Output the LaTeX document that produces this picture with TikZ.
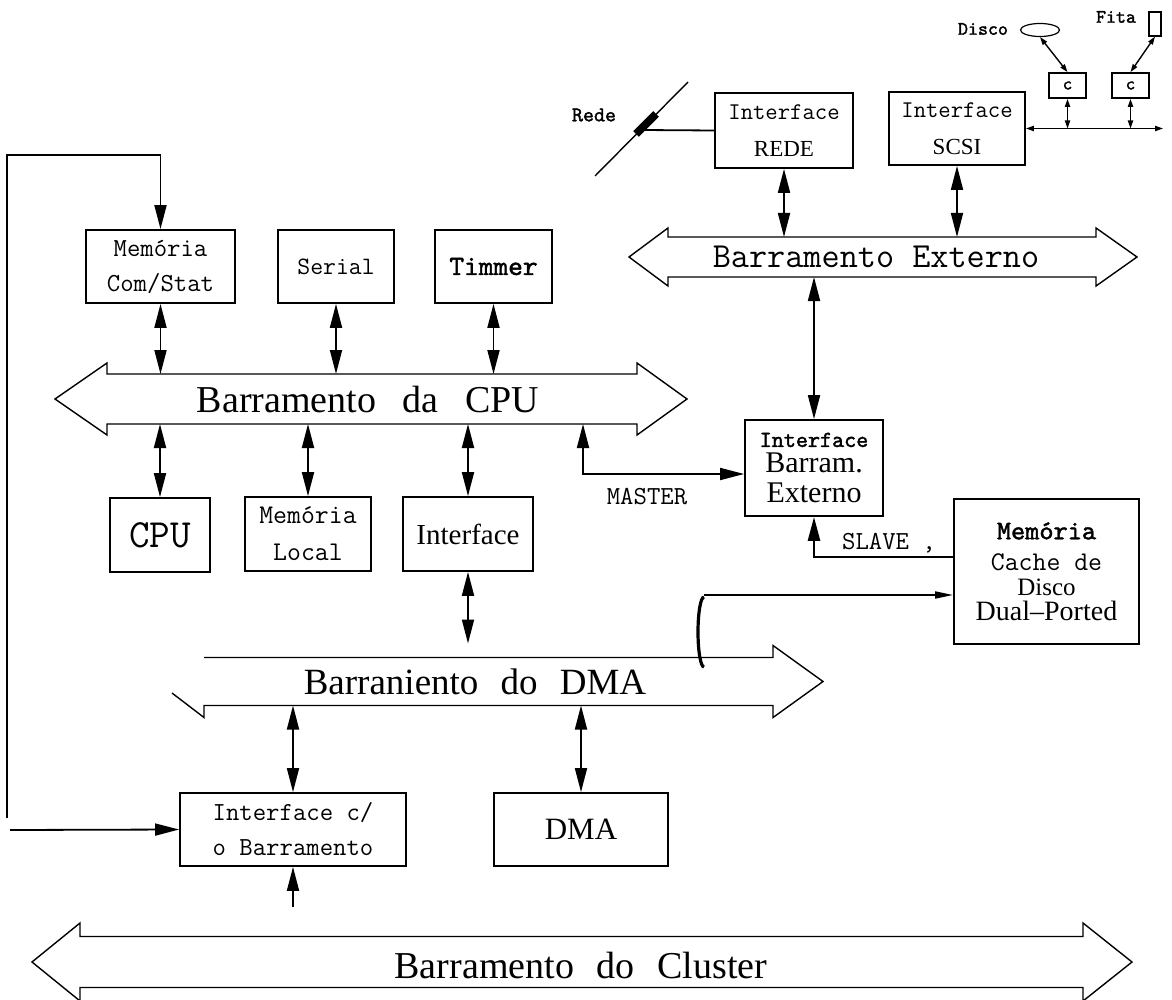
\documentclass[tikz,border=0pt]{standalone}
\usepackage{fontspec}
\setmainfont{Liberation Serif}
\newfontfamily\ttbold{lmmono10-regular.otf}[FakeBold=1.6]
\usetikzlibrary{arrows.meta,shapes.geometric}
\tikzset{
  >={Triangle[length=12pt,width=6pt]},
  box/.style={draw,line width=0.9pt,inner sep=0pt,align=center},
  wire/.style={line width=0.9pt},
  smallhead/.style={>={Triangle[length=4pt,width=2.6pt]},line width=0.7pt},
  bus/.style={line width=0.7pt},
}
\begin{document}
\begin{tikzpicture}[x=0.5pt,y=-0.5pt]
\useasboundingbox (0,0) rectangle (1172,1000);
\def\gap{\hspace{.6em}}
% #1 name, #2/#3 left tip/flare, #4/#5 right flare/tip, #6 mid y, #7 half shaft, #8 half head
\def\bus#1#2#3#4#5#6#7#8{
  \draw[bus] (#2,#6) -- (#3,#6-#8) -- (#3,#6-#7) -- (#4,#6-#7) -- (#4,#6-#8) -- (#5,#6)
    -- (#4,#6+#8) -- (#4,#6+#7) -- (#3,#6+#7) -- (#3,#6+#8) -- cycle;
  \coordinate (#1 top) at (0,#6-#7);
  \coordinate (#1 bot) at (0,#6+#7);
}

\bus{cpub}{55}{107}{637}{687}{399}{25}{36}
\bus{extb}{629}{668}{1096}{1137}{257}{20}{29}
\bus{club}{32}{80}{1083}{1132}{962}{25.5}{39}
% DMA bus, left head only half drawn
\draw[bus] (204,657.5) -- (773,657.5) -- (773,645.5) -- (823,681.5) -- (773,717.5) -- (773,705.5)
  -- (204,705.5) -- (204,717.5) -- (172,693);
\coordinate (dmab top) at (0,657.5);
\coordinate (dmab bot) at (0,705.5);

\node[font=\fontsize{19}{19}\selectfont] (cputxt) at (368,400) {Barramento\hspace{.7em}da\hspace{.7em}CPU};
\node[font=\ttfamily\fontsize{17.6}{17}\selectfont] (exttxt) at (876,257) {Barramento Externo};
\node[font=\fontsize{18.5}{19}\selectfont] (dmatxt) at (475,682) {Barraniento\gap do\gap DMA};
\node[font=\fontsize{19}{19}\selectfont] (clutxt) at (581,965) {Barramento\gap do\gap Cluster};

% boxes
\node[box,minimum width=74.5pt,minimum height=36.5pt,font=\ttfamily\fontsize{13}{17.5}\selectfont] (memcom) at (160.5,266.5) {Memória\\Com/Stat};
\node[box,minimum width=58pt,minimum height=36.5pt,font=\ttfamily\fontsize{12.5}{12}\selectfont] (serial) at (336,266.5) {Serial};
\node[box,minimum width=58.5pt,minimum height=36.5pt,font=\ttbold\fontsize{14}{12}\selectfont] (timer) at (493.5,266.5) {Timmer};
\node[box,minimum width=50pt,minimum height=37pt,font=\ttfamily\fontsize{20}{20}\selectfont] (cpu) at (160,535) {CPU};
\node[box,minimum width=63pt,minimum height=37pt,font=\ttfamily\fontsize{13.5}{18.5}\selectfont] (memloc) at (308,534) {Memória\\Local};
\node[box,minimum width=65pt,minimum height=37pt,font=\fontsize{14.5}{14.5}\selectfont] (ifmid) at (468,534) {Interface};
\node[box,minimum width=69pt,minimum height=37.5pt,font=\fontsize{11.5}{18.5}\selectfont] (rede) at (784,130.5) {{\ttfamily\fontsize{12}{18.5}\selectfont Interface}\\REDE};
\node[box,minimum width=68pt,minimum height=36.5pt,font=\fontsize{11.5}{18.5}\selectfont] (scsi) at (957,128.5) {{\ttfamily\fontsize{12}{18.5}\selectfont Interface}\\SCSI};
\node[box,minimum width=69pt,minimum height=48pt,font=\fontsize{15}{15}\selectfont] (ifbe) at (814,468) {{\ttbold\fontsize{11.5}{12}\selectfont Interface}\\[-2pt]Barram.\\Externo};
\node[box,minimum width=92.5pt,minimum height=72.5pt,font=\fontsize{12.5}{12.5}\selectfont] (cache) at (1046.5,571.5) {{\ttbold\fontsize{13.5}{12.5}\selectfont Memória}\\[3pt]{\ttfamily\fontsize{13.5}{12.5}\selectfont Cache de}\\Disco\\{\fontsize{14}{12.5}\selectfont Dual–Ported}};
\node[box,minimum width=113pt,minimum height=36.5pt,font=\ttfamily\fontsize{13}{17.5}\selectfont] (ifcb) at (293,829.5) {Interface c/\\o Barramento};
\node[box,minimum width=87pt,minimum height=36.5pt,font=\fontsize{15.5}{15.5}\selectfont] (dma) at (581,829.5) {DMA};
\node[box,minimum width=18.5pt,minimum height=12.5pt,font=\ttbold\fontsize{9}{9}\selectfont] (c1) at (1067.5,85.5) {c};
\node[box,minimum width=18.5pt,minimum height=12.5pt,font=\ttbold\fontsize{9}{9}\selectfont] (c2) at (1130.5,85.5) {c};
\node[draw,ellipse,minimum width=19.5pt,minimum height=6.5pt,inner sep=0pt,line width=0.6pt] (disco) at (1040,30) {};
\node[draw,minimum width=6pt,minimum height=12pt,inner sep=0pt,line width=0.6pt] (fita) at (1155,24) {};

% labels
\node[font=\ttbold\fontsize{9.5}{9.5}\selectfont] (discolbl) at (983,29) {Disco};
\node[font=\ttbold\fontsize{9.5}{9.5}\selectfont] (fitalbl) at (1116,17) {Fita};
\node[font=\ttbold\fontsize{10.5}{10.5}\selectfont] (redelbl) at (594,115) {Rede};
\node[font=\ttfamily\fontsize{13}{13}\selectfont] (master) at (647,497) {MASTER};
\node[font=\ttfamily\fontsize{13}{13}\selectfont] (slave) at (889,543) {SLAVE ,};

% links to the buses
\foreach \bx in {memcom,serial,timer}
  \draw[wire,<->] (\bx.south) -- (\bx.south |- cpub top);
\foreach \bx in {cpu,memloc,ifmid}
  \draw[wire,<->] (\bx.north) -- (\bx.north |- cpub bot);
\foreach \bx in {rede,scsi}
  \draw[wire,<->] (\bx.south) -- (\bx.south |- extb top);
\draw[wire,<->] (ifbe.north) -- (ifbe.north |- extb bot);
\foreach \bx in {ifcb,dma}
  \draw[wire,<->] (\bx.north) -- (\bx.north |- dmab bot);
\draw[wire,<->,shorten >=7pt] (ifmid.south) -- (ifmid.south |- dmab top);

% master / slave
\coordinate (mst) at (583,474);
\draw[wire,<->] (mst |- cpub bot) -- (mst) -- (mst -| ifbe.west);
\coordinate (slv) at (814,557);
\draw[line width=1.3pt,->] (slv -| cache.west) -- (slv) -- (ifbe.south);

% cable to the cache
\coordinate (ring) at (704,595);
\draw[line width=1.6pt] (704,597) arc[start angle=270,end angle=90,x radius=6,y radius=35];
\draw[wire,-{Triangle[length=9pt,width=3.5pt]}] (ring) -- (ring -| cache.west);

% left loop
\coordinate (lpb) at (7,818);
\coordinate (lpt) at (7,155);
\draw[wire,->] (lpb) -- (lpt) -| (memcom.north);
\coordinate (inl) at (10,830);
\draw[wire,->] (inl) -- (ifcb.west);
\coordinate (inb) at (293,907);
\draw[wire,->] (inb) -- (ifcb.south);

% rede
\coordinate (ra) at (595,176);
\coordinate (rb) at (688,82);
\draw[line width=0.7pt] (ra) -- (rb);
\draw[line width=4pt] (636,134) -- (656,114);
\coordinate (tap) at (641,130);
\draw[wire] (tap) -- (rede.west);

% scsi chain
\coordinate (scsiend) at (1163,128.5);
\draw[smallhead,<->] (scsi.east) -- (scsiend);
\foreach \bx in {c1,c2}
  \draw[smallhead,<->] (\bx.south) -- (\bx.south |- scsi.east);
\draw[smallhead,<->] (disco.south) -- (c1.north);
\draw[smallhead,<->] (fita.south) -- (c2.north);
\end{tikzpicture}
\end{document}
